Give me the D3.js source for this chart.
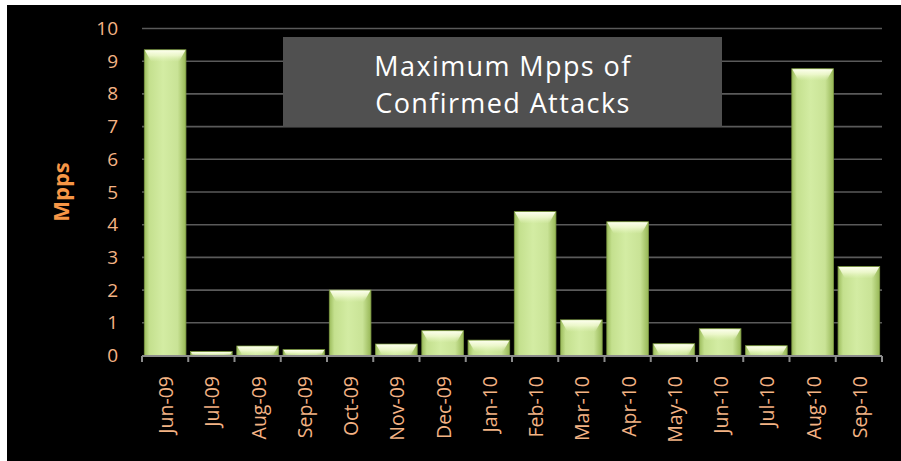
<!DOCTYPE html>
<html>
<head>
<meta charset="utf-8">
<script src="https://cdn.jsdelivr.net/npm/d3@7/dist/d3.min.js"></script>
<style>
  html, body { margin: 0; padding: 0; background: #ffffff; }
  svg { display: block; }
</style>
</head>
<body>
<div id="chart"></div>
<script>
// Monthly maximum packet rate (millions of packets per second)
const months = ["Jun-09", "Jul-09", "Aug-09", "Sep-09", "Oct-09", "Nov-09", "Dec-09", "Jan-10",
                "Feb-10", "Mar-10", "Apr-10", "May-10", "Jun-10", "Jul-10", "Aug-10", "Sep-10"];
const mpps = [9.35, 0.12, 0.29, 0.18, 2.0, 0.35, 0.76, 0.47,
              4.4, 1.09, 4.09, 0.36, 0.82, 0.3, 8.77, 2.72];
const yTicks = [0, 1, 2, 3, 4, 5, 6, 7, 8, 9, 10];
const titleLines = ["Maximum Mpps of", "Confirmed Attacks"];
const yLabel = "Mpps";

const W = 901, H = 461;
const plot = { left: 142, right: 882, top: 28.5, bottom: 355.5 };
const font = "'Open Sans', 'DejaVu Sans', sans-serif";

const svg = d3.select("#chart").append("svg")
  .attr("width", W).attr("height", H);

// dark slide background with a thin white margin on the top and left
svg.append("rect").attr("x", 7).attr("y", 5).attr("width", W - 7).attr("height", H - 5)
  .attr("fill", "#000000");

const defs = svg.append("defs");
const body = defs.append("linearGradient").attr("id", "barBody")
  .attr("x1", "0%").attr("x2", "100%").attr("y1", "0%").attr("y2", "0%");
[["0%", "#9cbc5c"], ["12%", "#c4e08e"], ["45%", "#d3eca3"], ["80%", "#c9e396"], ["100%", "#97b756"]]
  .forEach(([o, c]) => body.append("stop").attr("offset", o).attr("stop-color", c));

const shine = defs.append("linearGradient").attr("id", "barShine")
  .attr("x1", "0%").attr("x2", "0%").attr("y1", "0%").attr("y2", "100%");
[["0%", "#fdffee", 1], ["45%", "#f3fbd6", 0.8], ["100%", "#e6f5c0", 0]]
  .forEach(([o, c, a]) => shine.append("stop").attr("offset", o).attr("stop-color", c).attr("stop-opacity", a));

const x = d3.scaleBand().domain(months).range([plot.left, plot.right])
  .paddingInner(0.1).paddingOuter(0.05);
const y = d3.scaleLinear().domain([0, 10]).range([plot.bottom, plot.top]);

// horizontal gridlines
svg.append("g").selectAll("line").data(yTicks.filter(d => d > 0)).join("line")
  .attr("x1", plot.left).attr("x2", plot.right)
  .attr("y1", d => y(d)).attr("y2", d => y(d))
  .attr("stroke", "#5a5a5a").attr("stroke-width", 1.6);

// y axis tick labels
const yAxis = svg.append("g").attr("transform", `translate(${plot.left},0)`)
  .call(d3.axisLeft(y).tickValues(yTicks).tickSize(0).tickPadding(24).tickFormat(d3.format("d")));
yAxis.select(".domain").remove();
yAxis.selectAll("text")
  .attr("fill", "#f4b384").attr("font-family", font).attr("font-size", 19);

// bars
const bars = svg.append("g").selectAll("g").data(months).join("g");
bars.append("rect")
  .attr("x", d => x(d)).attr("width", x.bandwidth())
  .attr("y", (d, i) => y(mpps[i]))
  .attr("height", (d, i) => y(0) - y(mpps[i]))
  .attr("fill", "url(#barBody)")
  .attr("stroke", "#7d9944").attr("stroke-width", 0.8);
bars.append("path")
  .attr("d", (d, i) => {
    const x0 = x(d), w = x.bandwidth(), top = y(mpps[i]);
    const h = Math.min(12, y(0) - top);
    const inset = Math.min(7, h * 0.6);
    return `M${x0 + 0.5},${top + 0.5} L${x0 + w - 0.5},${top + 0.5} L${x0 + w - inset},${top + h} L${x0 + inset},${top + h} Z`;
  })
  .attr("fill", "url(#barShine)");

// category axis along the baseline
const xAxis = svg.append("g").attr("transform", `translate(0,${plot.bottom + 0.5})`)
  .call(d3.axisBottom(x).tickSize(0).tickPadding(0));
xAxis.select(".domain").remove();
xAxis.append("line").attr("x1", plot.left).attr("x2", plot.right)
  .attr("stroke", "#8c8c8c").attr("stroke-width", 2);
xAxis.selectAll(".sep").data(d3.range(months.length + 1)).join("line")
  .attr("class", "sep")
  .attr("x1", i => plot.left + i * x.step()).attr("x2", i => plot.left + i * x.step())
  .attr("y1", 0).attr("y2", 6)
  .attr("stroke", "#8c8c8c").attr("stroke-width", 2);
xAxis.selectAll(".tick text")
  .attr("fill", "#f4b384").attr("font-family", font).attr("font-size", 19.5)
  .attr("text-anchor", "end")
  .attr("transform", "translate(8,20) rotate(-90)")
  .attr("dy", 0).attr("y", 0).attr("x", 0);

// y axis title
svg.append("text")
  .attr("transform", `translate(69,${(plot.top + plot.bottom) / 2}) rotate(-90)`)
  .attr("text-anchor", "middle")
  .attr("fill", "#f79646").attr("font-family", font).attr("font-weight", "bold").attr("font-size", 22)
  .text(yLabel);

// title box
svg.append("rect").attr("x", 283).attr("y", 37).attr("width", 439).attr("height", 90)
  .attr("fill", "#505050");
svg.append("g").selectAll("text").data(titleLines).join("text")
  .attr("x", 503).attr("y", (d, i) => 75.5 + i * 37)
  .attr("text-anchor", "middle")
  .attr("fill", "#ffffff").attr("font-family", font).attr("font-size", 27)
  .attr("letter-spacing", 1.4)
  .text(d => d);
</script>
</body>
</html>
